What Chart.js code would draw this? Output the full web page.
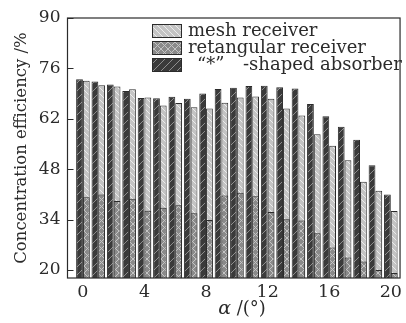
<!DOCTYPE html>
<html>
<head>
<meta charset="utf-8">
<script src="https://cdn.jsdelivr.net/npm/chart.js@4.4.0/dist/chart.umd.min.js"></script>
<style>
  html, body { margin: 0; padding: 0; background: #fff; }
</style>
</head>
<body>
<canvas id="effChart" width="406" height="323"></canvas>
<script>
// Data
const angles = [0, 1, 2, 3, 4, 5, 6, 7, 8, 9, 10, 11, 12, 13, 14, 15, 16, 17, 18, 19, 20];
const meshValues = [72.6, 71.3, 71.0, 70.2, 67.9, 65.7, 66.4, 65.2, 64.9, 66.5, 67.9,
                    68.2, 67.6, 64.9, 62.9, 57.7, 54.5, 50.5, 44.5, 42.0, 36.4];
const rectValues = [40.2, 41.0, 39.2, 39.8, 36.5, 37.3, 38.0, 35.8, 33.9, 40.7, 41.5,
                    40.5, 36.1, 34.1, 33.8, 30.2, 26.3, 23.5, 22.4, 20.0, 19.2];
const starValues = [73.0, 72.4, 71.5, 69.7, 67.8, 67.7, 68.1, 67.6, 69.0, 70.3, 70.6,
                    71.1, 71.2, 70.8, 70.4, 66.1, 62.7, 59.8, 56.2, 49.1, 41.0];
const xTicks = [0, 4, 8, 12, 16, 20];
const yTicks = [20, 34, 48, 62, 76, 90];
const seriesNames = ['mesh receiver', 'retangular receiver', '\u201c*\u201d -shaped absorber'];

const SERIF = '"DejaVu Serif", serif';
const INK = '#2b2b2b';

// hatch fills
function makePattern(base, line, size, draw) {
  const c = document.createElement('canvas');
  c.width = c.height = size;
  const g = c.getContext('2d');
  g.fillStyle = base;
  g.fillRect(0, 0, size, size);
  g.strokeStyle = line;
  g.lineWidth = 1;
  draw(g, size);
  return g.createPattern(c, 'repeat');
}
function slash(g, s) {
  g.beginPath();
  g.moveTo(0, s); g.lineTo(s, 0);
  g.moveTo(-1, 1); g.lineTo(1, -1);
  g.moveTo(s - 1, s + 1); g.lineTo(s + 1, s - 1);
  g.stroke();
}
function backslash(g, s) {
  g.beginPath();
  g.moveTo(0, 0); g.lineTo(s, s);
  g.moveTo(-1, s - 1); g.lineTo(1, s + 1);
  g.moveTo(s - 1, -1); g.lineTo(s + 1, 1);
  g.stroke();
}
const meshFill = makePattern('#c4c4c4', '#ececec', 6, backslash);
const rectFill = makePattern('#8a8a8a', '#c4c4c4', 7, (g, s) => { slash(g, s); backslash(g, s); });
const starFill = makePattern('#3a3a3a', '#8e8e8e', 8, slash);
const fills = [meshFill, rectFill, starFill];

// frame, inside ticks, legend and x title
const decor = {
  id: 'decor',
  afterDraw(chart) {
    const { ctx, chartArea: a, scales } = chart;
    ctx.save();
    ctx.strokeStyle = INK;
    ctx.lineWidth = 1.2;
    ctx.strokeRect(a.left, a.top, a.right - a.left, a.bottom - a.top);
    ctx.beginPath();
    yTicks.forEach(v => {
      const y = Math.round(scales.y.getPixelForValue(v)) + 0.5;
      ctx.moveTo(a.left, y);
      ctx.lineTo(a.left + 6, y);
    });
    ctx.stroke();

    // legend
    const boxTops = [24, 41, 58];
    ctx.lineWidth = 1;
    ctx.font = '18px ' + SERIF;
    ctx.textBaseline = 'middle';
    seriesNames.forEach((name, i) => {
      const y = boxTops[i];
      ctx.fillStyle = fills[i];
      ctx.fillRect(152, y, 30, 14);
      ctx.strokeStyle = INK;
      ctx.strokeRect(152.5, y + 0.5, 29, 13);
      ctx.fillStyle = INK;
      if (i === 2) {
        const cut = name.indexOf(' ');
        ctx.fillText(name.slice(0, cut), 197, y + 7);
        ctx.fillText(name.slice(cut + 1), 243, y + 7);
      } else {
        ctx.fillText(name, 188, y + 7);
      }
    });

    // x title: italic alpha + upright unit
    ctx.textBaseline = 'alphabetic';
    ctx.font = 'italic 19px ' + SERIF;
    const w1 = ctx.measureText('\u03b1').width;
    ctx.font = '18px ' + SERIF;
    const w2 = ctx.measureText(' /(\u00b0)').width;
    const x0 = 242 - (w1 + w2) / 2;
    ctx.font = 'italic 19px ' + SERIF;
    ctx.fillText('\u03b1', x0, 314);
    ctx.font = '18px ' + SERIF;
    ctx.fillText(' /(\u00b0)', x0 + w1, 314);
    ctx.restore();
  }
};

const ctx = document.getElementById('effChart').getContext('2d');
const effChart = new Chart(ctx, {
  type: 'bar',
  data: {
    labels: angles,
    datasets: [
      { label: seriesNames[2], data: starValues, stack: 'a', backgroundColor: starFill },
      { label: seriesNames[1], data: rectValues, stack: 'b', backgroundColor: rectFill },
      { label: seriesNames[0], data: meshValues, stack: 'b', backgroundColor: meshFill }
    ]
  },
  options: {
    responsive: false,
    animation: false,
    layout: { padding: { top: 18, right: 2, left: 0, bottom: 0 } },
    datasets: {
      bar: {
        borderColor: INK,
        borderWidth: 1,
        barPercentage: 1.0,
        categoryPercentage: 0.88
      }
    },
    plugins: { legend: { display: false }, tooltip: { enabled: false } },
    scales: {
      x: {
        type: 'linear',
        min: -1,
        max: 20.6,
        offset: false,
        stacked: true,
        grid: { display: false, drawTicks: false },
        border: { display: false },
        ticks: { color: INK, font: { family: SERIF, size: 17.5 }, padding: 4, maxRotation: 0, autoSkip: false },
        afterBuildTicks: s => { s.ticks = xTicks.map(v => ({ value: v })); },
        afterFit: s => { s.height = 45; }
      },
      y: {
        min: 17.8,
        max: 90,
        stacked: false,
        grid: { display: false, drawTicks: false },
        border: { display: false },
        ticks: { color: INK, font: { family: SERIF, size: 17 }, padding: 7 },
        afterBuildTicks: s => { s.ticks = yTicks.map(v => ({ value: v })); },
        afterFit: s => { s.width = 67.5; },
        title: {
          display: true,
          text: 'Concentration efficiency /%',
          color: INK,
          font: { family: SERIF, size: 16.5 },
          padding: { top: 12, bottom: 0 }
        }
      }
    }
  },
  plugins: [decor]
});
</script>
</body>
</html>
